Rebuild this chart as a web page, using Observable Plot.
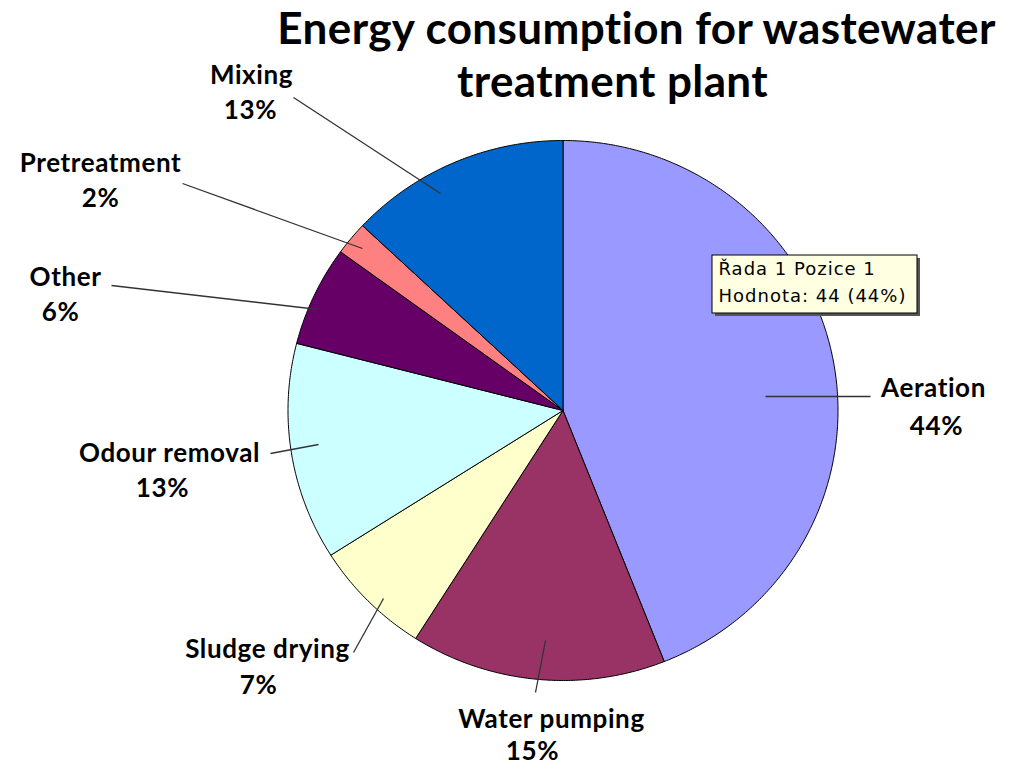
<!DOCTYPE html>
<html><head><meta charset="utf-8">
<script src="https://cdn.jsdelivr.net/npm/d3@7"></script>
<script src="https://cdn.jsdelivr.net/npm/@observablehq/plot@0.6"></script>
<style>
body{margin:0;background:#fff;}
#chart{width:1015px;height:769px;}
</style></head><body>
<div id="chart"></div>
<script>
// ---- data ----
const categories = ["Aeration","Water pumping","Sludge drying","Odour removal","Other","Pretreatment","Mixing"];
const values = [44,15,7,13,6,2,13];
const colors = ["#9999FF","#993366","#FFFFCC","#CCFFFF","#660066","#FF8080","#0066CC"];
const titleLines = ["Energy consumption for wastewater","treatment plant"];
const tooltipLines = ["Řada 1 Pozice 1","Hodnota: 44 (44%)"];

// ---- layout (pixels) ----
const pieLayout = {cx:562.5, cy:410, rx:275, ry:270};
// per category: name center, pct center, leader outer, leader inner
const labelLayout = {
  "Aeration":      {nx:933, ny:388, px:936, py:426, ox:870, oy:396, ix:765, iy:396},
  "Water pumping": {nx:551, ny:719, px:532, py:751, ox:535, oy:692, ix:545, iy:640},
  "Sludge drying": {nx:267, ny:649, px:258, py:685, ox:353, oy:652, ix:383, iy:598},
  "Odour removal": {nx:169, ny:453, px:162, py:488, ox:270, oy:453, ix:318, iy:444},
  "Other":         {nx:65,  ny:277, px:60,  py:312, ox:111, oy:285, ix:318, iy:309},
  "Pretreatment":  {nx:100, ny:163, px:100, py:198, ox:182, oy:183, ix:362, iy:248},
  "Mixing":        {nx:251, ny:75,  px:250, py:110, ox:293, oy:97,  ix:440, iy:193}
};
const titleLayout = [{x:636, y:29}, {x:612, y:82}];
const tipBox = {x1:712, y1:255, x2:917, y2:313};

// ---- derived ----
const total = d3.sum(values);
const arcs = d3.pie().sort(null).value(d => d)(values);
const slicePts = [];
arcs.forEach((a, i) => {
  const cat = categories[i];
  const {cx, cy, rx, ry} = pieLayout;
  const n = Math.max(2, Math.ceil((a.endAngle - a.startAngle) / (Math.PI / 360)));
  slicePts.push({cat, x: cx, y: cy});
  for (let k = 0; k <= n; k++) {
    const t = a.startAngle + (a.endAngle - a.startAngle) * k / n;
    slicePts.push({cat, x: cx + rx * Math.sin(t), y: cy - ry * Math.cos(t)});
  }
  slicePts.push({cat, x: cx, y: cy});
});
const labels = categories.map((c, i) => ({
  cat: c, pct: Math.round(values[i] / total * 100) + "%", ...labelLayout[c]
}));
const titles = titleLines.map((t, i) => ({text: t, ...titleLayout[i]}));
const tips = tooltipLines.map((t, i) => ({text: t, x: tipBox.x1 + 6, y: tipBox.y1 + 14 + i * 27}));

const font = "Lato, 'Open Sans', sans-serif";
const chart = Plot.plot({
  width: 1015, height: 769, margin: 0,
  x: {domain: [0, 1015], range: [0, 1015], axis: null},
  y: {domain: [0, 769], range: [0, 769], axis: null},
  color: {domain: categories, range: colors},
  style: {background: "#fff"},
  marks: [
    Plot.line(slicePts, {x: "x", y: "y", z: "cat", fill: "cat", stroke: "#000", strokeWidth: 1, curve: "linear", strokeLinejoin: "round"}),
    Plot.link(labels, {x1: "ox", y1: "oy", x2: "ix", y2: "iy", stroke: "#333", strokeWidth: 1.3}),
    Plot.text(labels, {x: "nx", y: "ny", text: "cat", fontSize: 26, fontWeight: "bold", fontFamily: font, fill: "#000"}),
    Plot.text(labels, {x: "px", y: "py", text: "pct", fontSize: 26, fontWeight: "bold", fontFamily: font, fill: "#000"}),
    Plot.text(titles, {x: "x", y: "y", text: "text", fontSize: 44, fontWeight: "bold", fontFamily: font, fill: "#000"}),
    Plot.rect([tipBox], {x1: d => d.x1 + 3, x2: d => d.x2 + 3, y1: d => d.y1 + 3, y2: d => d.y2 + 3, fill: "#555"}),
    Plot.rect([tipBox], {x1: "x1", x2: "x2", y1: "y1", y2: "y2", fill: "#FFFFE1", stroke: "#000", strokeWidth: 1}),
    Plot.text(tips, {x: "x", y: "y", text: "text", textAnchor: "start", fontSize: 18, fontFamily: "'DejaVu Sans', sans-serif", fill: "#000"})
  ]
});
// letter spacing tweaks per text layer
const textLayers = chart.querySelectorAll("g[aria-label='text']");
const spacing = ["0.6px", "0.6px", "0.4px", "1px"];
textLayers.forEach((g, i) => g.setAttribute("letter-spacing", spacing[i] || "0"));
document.getElementById("chart").appendChild(chart);
</script>
</body></html>
